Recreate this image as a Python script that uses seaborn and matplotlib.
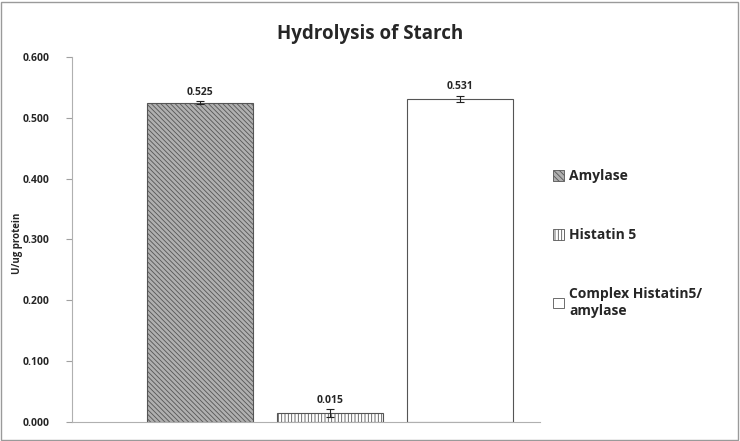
import matplotlib
matplotlib.use("Agg")
import matplotlib.pyplot as plt
import seaborn as sns
import pandas as pd
from matplotlib.patches import Rectangle

# Data
groups = ["Amylase", "Histatin 5", "Complex Histatin5/\namylase"]
values = [0.525, 0.015, 0.531]
errors = [0.002, 0.006, 0.005]
labels = ["0.525", "0.015", "0.531"]
yticks = [0.0, 0.1, 0.2, 0.3, 0.4, 0.5, 0.6]

sns.set_style("white")
plt.rcParams["font.family"] = ["Open Sans", "DejaVu Sans"]
plt.rcParams["hatch.linewidth"] = 0.6

df = pd.DataFrame({"group": groups, "value": values})

fig = plt.figure(figsize=(7.4, 4.41), dpi=100)
ax = fig.add_axes([0.097, 0.043, 0.633, 0.828])

sns.barplot(data=df, x="group", y="value", hue="group", palette=["#b0b0b0", "white", "white"],
            width=0.815, edgecolor="#555555", linewidth=0.8, dodge=False, legend=False, ax=ax)

hatches = ["\\\\\\\\\\\\\\", "|||||", ""]
for patch, h in zip(ax.patches, hatches):
    patch.set_hatch(h)
    patch.set_edgecolor("#555555")

ax.errorbar(range(len(values)), values, yerr=errors, fmt="none", ecolor="#222222",
            elinewidth=0.8, capsize=3, capthick=0.8)

for i, (v, e, t) in enumerate(zip(values, errors, labels)):
    ax.text(i, v + e + 0.006, t, ha="center", va="bottom", fontsize=7.5, fontweight="bold")

ax.set_ylim(0, 0.6)
ax.set_xlim(-0.985, 2.615)
ax.set_yticks(yticks)
ax.set_yticklabels([f"{t:.3f}" for t in yticks], fontsize=7.5, fontweight="bold")
ax.set_xticks([])
ax.set_xlabel("")
ax.set_ylabel("U/ug protein", fontsize=7, fontweight="bold")
ax.yaxis.set_label_coords(-0.105, 0.49)
ax.tick_params(axis="y", direction="out", length=4, color="#a0a0a0", left=True, pad=12)
for s in ["top", "right"]:
    ax.spines[s].set_visible(False)
for s in ["left", "bottom"]:
    ax.spines[s].set_color("#b0b0b0")
    ax.spines[s].set_linewidth(0.8)

fig.suptitle("Hydrolysis of Starch", x=0.5, y=0.945, fontsize=13.5, fontweight="bold")

# legend
handles = [Rectangle((0, 0), 1, 1, facecolor=c, edgecolor="#555555", hatch=h, linewidth=0.6)
           for c, h in zip(["#b0b0b0", "white", "white"], ["\\\\\\\\\\\\", "|||||", ""])]
leg = fig.legend(handles, groups, loc="upper left", bbox_to_anchor=(0.73, 0.645),
                 frameon=False, prop={"weight": "bold", "size": 10},
                 handlelength=0.8, handleheight=0.8, handletextpad=0.4, labelspacing=3.25)

fig.patches.append(Rectangle((0.002, 0.003), 0.995, 0.993, transform=fig.transFigure,
                             fill=False, edgecolor="#9a9a9a", linewidth=1))

fig.savefig("out.png", dpi=100)
